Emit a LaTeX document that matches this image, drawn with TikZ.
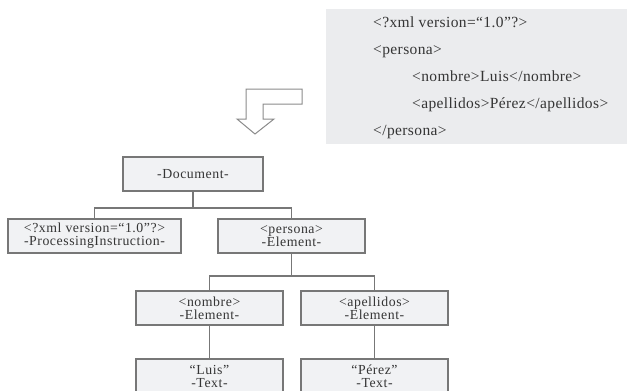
\documentclass[tikz,border=0pt]{standalone}
\usepackage{fontspec}
\setmainfont{Liberation Serif}
\newfontfamily\boxfont[LetterSpace=4]{Liberation Serif}
\newfontfamily\codefont[LetterSpace=2.5]{Liberation Serif}
\definecolor{boxfill}{HTML}{F1F2F4}
\definecolor{codefill}{HTML}{EBECEE}
\definecolor{edge}{HTML}{777777}
\definecolor{ink}{HTML}{353535}
\tikzset{
  treebox/.style={draw=edge, line width=1.1pt, fill=boxfill, minimum height=34pt,
    inner sep=0pt, align=center, text=ink,
    font=\fontsize{13.8}{13}\selectfont\boxfont},
  link/.style={draw=edge, line width=1.1pt},
  codeline/.style={anchor=base west, inner sep=0pt, text=ink,
    font=\fontsize{15.5}{16}\selectfont\codefont},
}
\begin{document}
\begin{tikzpicture}[x=1pt, y=-1pt]
\useasboundingbox (0,0) rectangle (627,391);

% XML source listing
\fill[codefill] (326,9) rectangle (640,144);
\node[codeline] (c1) at (373,27) {<?xml version=“1.0”?>};
\node[codeline] (c2) at (373,54) {<persona>};
\node[codeline] (c3) at (412,81) {<nombre>Luis</nombre>};
\node[codeline] (c4) at (412,108) {<apellidos>Pérez</apellidos>};
\node[codeline] (c5) at (373,135.5) {</persona>};

% bent hollow arrow: source -> tree
\draw[edge!85, line width=1pt, fill=white, line join=miter]
  (246,89) -- (302,89) -- (302,104) -- (263,104) -- (263,119) -- (274,119)
  -- (255,134) -- (237,119) -- (246,119) -- cycle;

% DOM tree
\node[treebox, minimum width=140pt] (doc) at (193,174) {-Document-};
\node[treebox, minimum width=173pt] (pi) at (94.5,236) {<?xml version=“1.0”?>\\-ProcessingInstruction-};
\node[treebox, minimum width=147pt] (per) at (291.5,236) {<persona>\\-Element-};
\node[treebox, minimum width=147pt] (nom) at (209.5,308) {<nombre>\\-Element-};
\node[treebox, minimum width=147pt] (ape) at (374.5,308) {<apellidos>\\-Element-};
\node[treebox, minimum width=147pt] (luis) at (209.5,376) {“Luis”\\-Text-};
\node[treebox, minimum width=147pt] (perez) at (374.5,376) {“Pérez”\\-Text-};

\coordinate (j1) at (193,208);
\coordinate (j2) at (291.5,276);
\draw[link] (doc.south) -- (j1);
\draw[link] (pi.north) |- (j1) -| (per.north);
\draw[link] (per.south) -- (j2);
\draw[link] (nom.north) |- (j2) -| (ape.north);
\draw[link] (nom.south) -- (luis.north);
\draw[link] (ape.south) -- (perez.north);
\end{tikzpicture}
\end{document}
